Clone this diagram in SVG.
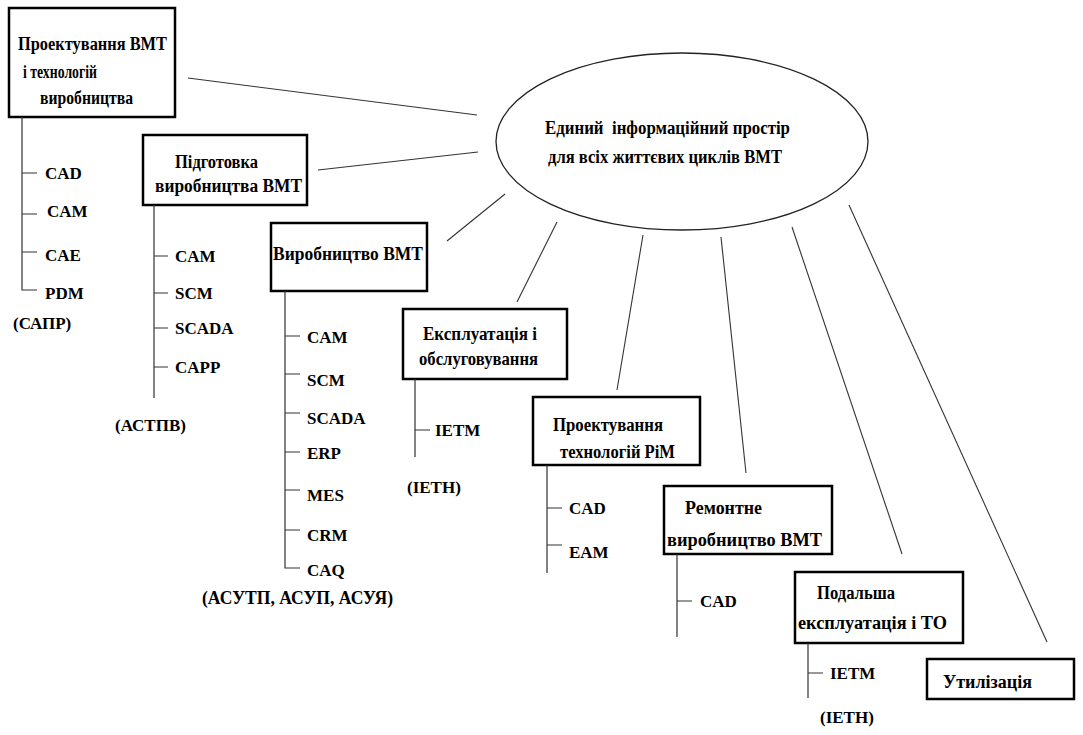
<svg xmlns="http://www.w3.org/2000/svg" width="1083" height="735" viewBox="0 0 1083 735">
<style>
.box{fill:#fff;stroke:#000;stroke-width:2.5}
.conn{stroke:#333;stroke-width:1.1;fill:none}
.tree{stroke:#333;stroke-width:1.2;fill:none}
.ell{fill:#fff;stroke:#222;stroke-width:1.3}
</style>
<rect width="1083" height="735" fill="#fff"/>
<g id="connectors">
<line class="conn" x1="188" y1="78" x2="477" y2="115"/>
<line class="conn" x1="318" y1="170" x2="478" y2="152"/>
<line class="conn" x1="447" y1="241" x2="505" y2="194"/>
<line class="conn" x1="517" y1="302" x2="557" y2="222"/>
<line class="conn" x1="617" y1="390" x2="643" y2="235"/>
<line class="conn" x1="746" y1="473" x2="721" y2="237"/>
<line class="conn" x1="792" y1="227" x2="902" y2="554"/>
<line class="conn" x1="849" y1="205" x2="1047" y2="642"/>
</g>
<g id="hub">
<ellipse class="ell" cx="682" cy="141.5" rx="186" ry="88.5"/>
<text x="545" y="134" font-family="Liberation Serif" font-weight="bold" font-size="18" textLength="245" lengthAdjust="spacingAndGlyphs" xml:space="preserve">Единий  інформаційний простір</text>
<text x="548" y="163" font-family="Liberation Serif" font-weight="bold" font-size="18" textLength="234" lengthAdjust="spacingAndGlyphs">для всіх життєвих циклів ВМТ</text>
</g>
<g id="node1">
<rect class="box" x="9" y="8" width="166" height="109"/>
<text x="18" y="50" font-family="Liberation Serif" font-weight="bold" font-size="18" textLength="149" lengthAdjust="spacingAndGlyphs">Проектування ВМТ</text>
<text x="23" y="78" font-family="Liberation Serif" font-weight="bold" font-size="18" textLength="74" lengthAdjust="spacingAndGlyphs">і технологій</text>
<text x="40" y="104" font-family="Liberation Serif" font-weight="bold" font-size="18" textLength="93" lengthAdjust="spacingAndGlyphs">виробництва</text>
<path class="tree" d="M22 117V290H37M22 173H37M22 214H37M22 252H37"/>
<text x="45" y="179" font-family="Liberation Serif" font-weight="bold" font-size="17">CAD</text>
<text x="47" y="217" font-family="Liberation Serif" font-weight="bold" font-size="17">CAM</text>
<text x="45" y="261" font-family="Liberation Serif" font-weight="bold" font-size="17">CAE</text>
<text x="45" y="299" font-family="Liberation Serif" font-weight="bold" font-size="17">PDM</text>
<text x="13" y="329" font-family="Liberation Serif" font-weight="bold" font-size="17">(САПР)</text>
</g>
<g id="node2">
<rect class="box" x="143" y="135" width="164" height="70"/>
<text x="175" y="168" font-family="Liberation Serif" font-weight="bold" font-size="18" textLength="83" lengthAdjust="spacingAndGlyphs">Підготовка</text>
<text x="155" y="192" font-family="Liberation Serif" font-weight="bold" font-size="18" textLength="147" lengthAdjust="spacingAndGlyphs">виробництва ВМТ</text>
<path class="tree" d="M154 205V398M154 256H168M154 293H168M154 328H168M154 367H168"/>
<text x="175" y="262" font-family="Liberation Serif" font-weight="bold" font-size="17">CAM</text>
<text x="175" y="299" font-family="Liberation Serif" font-weight="bold" font-size="17">SCM</text>
<text x="175" y="334" font-family="Liberation Serif" font-weight="bold" font-size="17">SCADA</text>
<text x="175" y="373" font-family="Liberation Serif" font-weight="bold" font-size="17">CAPP</text>
<text x="115" y="431" font-family="Liberation Serif" font-weight="bold" font-size="17">(АСТПВ)</text>
</g>
<g id="node3">
<rect class="box" x="271" y="223" width="156" height="68"/>
<text x="273" y="260" font-family="Liberation Serif" font-weight="bold" font-size="18" textLength="150" lengthAdjust="spacingAndGlyphs">Виробництво ВМТ</text>
<path class="tree" d="M285 291V568H300M285 336H300M285 374H300M285 413H300M285 452H300M285 490H300M285 530H300"/>
<text x="307" y="343" font-family="Liberation Serif" font-weight="bold" font-size="17">CAM</text>
<text x="307" y="386" font-family="Liberation Serif" font-weight="bold" font-size="17">SCM</text>
<text x="307" y="424" font-family="Liberation Serif" font-weight="bold" font-size="17">SCADA</text>
<text x="307" y="459" font-family="Liberation Serif" font-weight="bold" font-size="17">ERP</text>
<text x="307" y="501" font-family="Liberation Serif" font-weight="bold" font-size="17">MES</text>
<text x="307" y="541" font-family="Liberation Serif" font-weight="bold" font-size="17">CRM</text>
<text x="307" y="576" font-family="Liberation Serif" font-weight="bold" font-size="17">CAQ</text>
<text x="202" y="604" font-family="Liberation Serif" font-weight="bold" font-size="18" textLength="191" lengthAdjust="spacingAndGlyphs">(АСУТП, АСУП, АСУЯ)</text>
</g>
<g id="node4">
<rect class="box" x="403" y="309" width="164" height="70"/>
<text x="423" y="340" font-family="Liberation Serif" font-weight="bold" font-size="18" textLength="114" lengthAdjust="spacingAndGlyphs">Експлуатація і</text>
<text x="419" y="365" font-family="Liberation Serif" font-weight="bold" font-size="18" textLength="119" lengthAdjust="spacingAndGlyphs">обслуговування</text>
<path class="tree" d="M415 379V457M415 430H430"/>
<text x="435" y="436" font-family="Liberation Serif" font-weight="bold" font-size="17">IETM</text>
<text x="407" y="493" font-family="Liberation Serif" font-weight="bold" font-size="17">(ІЕТН)</text>
</g>
<g id="node5">
<rect class="box" x="533" y="397" width="167" height="68"/>
<text x="553" y="431" font-family="Liberation Serif" font-weight="bold" font-size="18" textLength="110" lengthAdjust="spacingAndGlyphs">Проектування</text>
<text x="560" y="458" font-family="Liberation Serif" font-weight="bold" font-size="18" textLength="115" lengthAdjust="spacingAndGlyphs">технологій РіМ</text>
<path class="tree" d="M547 465V573M547 508H562M547 545H562"/>
<text x="569" y="514" font-family="Liberation Serif" font-weight="bold" font-size="17">CAD</text>
<text x="569" y="558" font-family="Liberation Serif" font-weight="bold" font-size="17">EAM</text>
</g>
<g id="node6">
<rect class="box" x="664" y="486" width="168" height="68"/>
<text x="685" y="514" font-family="Liberation Serif" font-weight="bold" font-size="18" textLength="77" lengthAdjust="spacingAndGlyphs">Ремонтне</text>
<text x="667" y="546" font-family="Liberation Serif" font-weight="bold" font-size="18" textLength="155" lengthAdjust="spacingAndGlyphs">виробництво ВМТ</text>
<path class="tree" d="M677 554V637M677 601H692"/>
<text x="700" y="607" font-family="Liberation Serif" font-weight="bold" font-size="17">CAD</text>
</g>
<g id="node7">
<rect class="box" x="795" y="572" width="168" height="71"/>
<text x="817" y="599" font-family="Liberation Serif" font-weight="bold" font-size="18" textLength="78" lengthAdjust="spacingAndGlyphs">Подальша</text>
<text x="798" y="629" font-family="Liberation Serif" font-weight="bold" font-size="18" textLength="149" lengthAdjust="spacingAndGlyphs">експлуатація і ТО</text>
<path class="tree" d="M808 643V698M808 673H823"/>
<text x="830" y="679" font-family="Liberation Serif" font-weight="bold" font-size="17">IETM</text>
<text x="820" y="723" font-family="Liberation Serif" font-weight="bold" font-size="17">(ІЕТН)</text>
</g>
<g id="node8">
<rect class="box" x="927" y="659" width="147" height="40"/>
<text x="943" y="688" font-family="Liberation Serif" font-weight="bold" font-size="18" textLength="89" lengthAdjust="spacingAndGlyphs">Утилізація</text>
</g>
</svg>
